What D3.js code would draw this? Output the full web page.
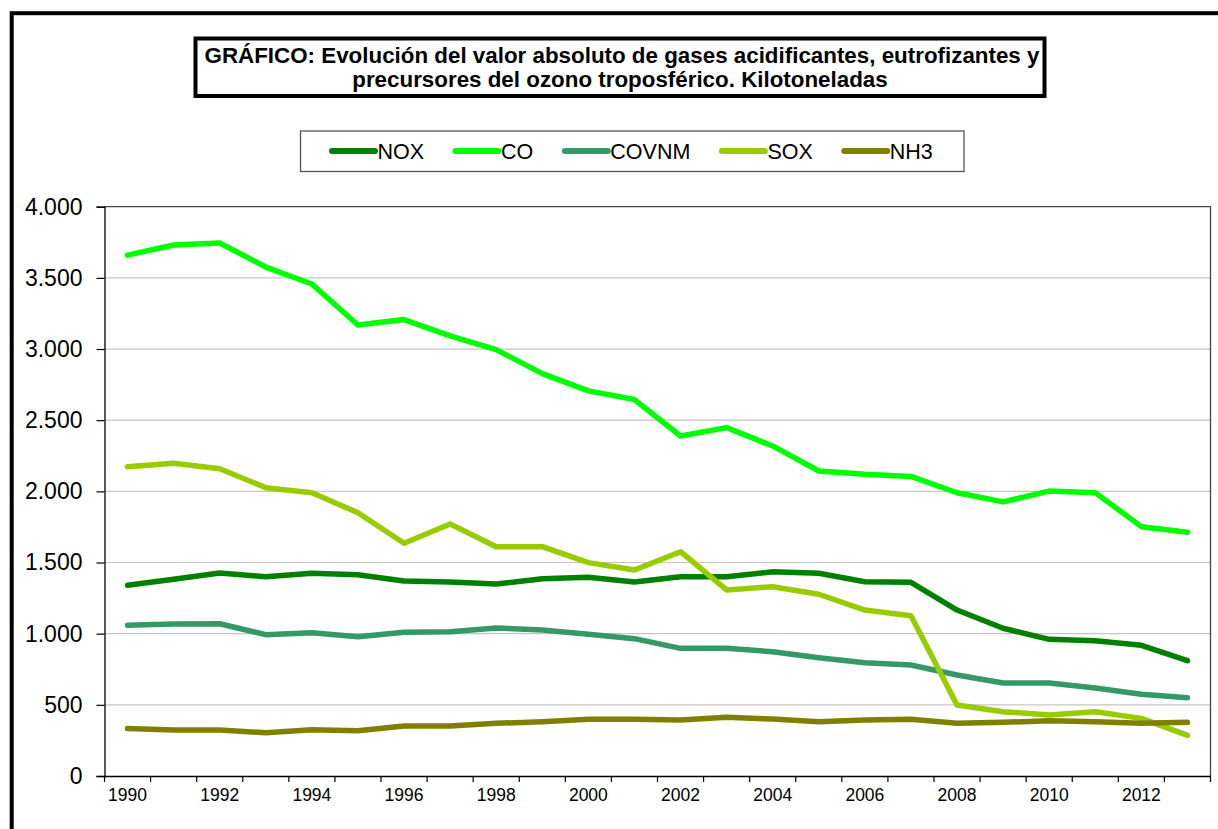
<!DOCTYPE html>
<html>
<head>
<meta charset="utf-8">
<script src="https://cdn.jsdelivr.net/npm/d3@7/dist/d3.min.js"></script>
<style>
  html, body { margin: 0; padding: 0; background: #fff; }
  svg { display: block; font-family: "Liberation Sans", Arial, sans-serif; }
</style>
</head>
<body>
<svg id="chart" width="1218" height="829"></svg>
<script>
const years = d3.range(1990, 2014);
const tickYears = [1990, 1992, 1994, 1996, 1998, 2000, 2002, 2004, 2006, 2008, 2010, 2012];
const yTicks = [0, 500, 1000, 1500, 2000, 2500, 3000, 3500, 4000];
const seriesNames = ["NOX", "CO", "COVNM", "SOX", "NH3"];
const seriesColors = ["#008000", "#00FF00", "#339966", "#99CC00", "#808000"];

const NOX   = [1340, 1382, 1426, 1400, 1424, 1414, 1370, 1363, 1349, 1386, 1396, 1363, 1400, 1400, 1435, 1424, 1365, 1361, 1166, 1038, 960, 951, 918, 810];
const CO    = [3660, 3731, 3745, 3576, 3457, 3169, 3207, 3093, 2996, 2827, 2706, 2645, 2389, 2448, 2319, 2143, 2120, 2105, 1990, 1926, 2002, 1991, 1752, 1712];
const COVNM = [1059, 1068, 1070, 993, 1007, 979, 1010, 1014, 1040, 1026, 996, 965, 897, 897, 873, 831, 796, 780, 710, 653, 653, 618, 574, 550];
const SOX   = [2173, 2197, 2159, 2026, 1990, 1850, 1635, 1771, 1611, 1611, 1499, 1447, 1576, 1307, 1330, 1277, 1166, 1126, 499, 452, 429, 452, 405, 286];
const NH3   = [333, 323, 323, 304, 325, 318, 351, 351, 370, 382, 398, 398, 393, 412, 400, 382, 393, 398, 370, 377, 388, 382, 370, 377];
const seriesValues = [NOX, CO, COVNM, SOX, NH3];

const titleLines = ["GRÁFICO: Evolución del valor absoluto de gases acidificantes, eutrofizantes y",
                    "precursores del ozono troposférico. Kilotoneladas"];

(function () {
const svg = d3.select("#chart");
const loc = d3.formatLocale({decimal: ",", thousands: ".", grouping: [3], currency: ["", ""]});
const fmt = loc.format(",d");

// outer frame
svg.append("rect").attr("x", 11.7).attr("y", 13.2).attr("width", 1300).attr("height", 900)
  .attr("fill", "none").attr("stroke", "#000").attr("stroke-width", 4);

// title box
svg.append("rect").attr("x", 195.5).attr("y", 38.5).attr("width", 849).attr("height", 57.5)
  .attr("fill", "#fff").attr("stroke", "#000").attr("stroke-width", 4);
const t1 = svg.append("text").attr("x", 622).attr("y", 63).attr("text-anchor", "middle")
  .attr("font-weight", "bold").attr("font-size", 18).attr("fill", "#000").text(titleLines[0]);
const w1 = t1.node().getComputedTextLength();
const tfs = 18 * 835 / w1;
t1.attr("font-size", tfs);
svg.append("text").attr("x", 620).attr("y", 86.5).attr("text-anchor", "middle")
  .attr("font-weight", "bold").attr("font-size", tfs).attr("fill", "#000").text(titleLines[1]);

// legend box
svg.append("rect").attr("x", 300.5).attr("y", 131).attr("width", 663.5).attr("height", 40.5)
  .attr("fill", "#fff").attr("stroke", "#555").attr("stroke-width", 1.3);
let lx = 329.5;
seriesNames.forEach((name, i) => {
  svg.append("line").attr("x1", lx + 2.5).attr("x2", lx + 45.5).attr("y1", 151).attr("y2", 151)
    .attr("stroke", seriesColors[i]).attr("stroke-width", 6).attr("stroke-linecap", "round");
  const tx = svg.append("text").attr("x", lx + 48).attr("y", 158.5).attr("font-size", 21.5)
    .attr("fill", "#000").text(name);
  lx = lx + 48 + tx.node().getComputedTextLength() + 29;
});

// plot area
const pLeft = 104.5, pRight = 1210.5, pTop = 206.7, pBottom = 776;
const x = d3.scaleBand().domain(years).range([pLeft, pRight]);
const y = d3.scaleLinear().domain([0, 4000]).range([pBottom, pTop]);

// gridlines
svg.append("g").selectAll("line").data(yTicks.filter(d => d > 0 && d < 4000)).join("line")
  .attr("x1", pLeft).attr("x2", pRight).attr("y1", d => y(d)).attr("y2", d => y(d))
  .attr("stroke", "#c6c6c6").attr("stroke-width", 1.2);

// plot border top/right
svg.append("path").attr("d", `M${pLeft},${pTop}H${pRight}V${pBottom}`)
  .attr("fill", "none").attr("stroke", "#444").attr("stroke-width", 1.3);

// y axis
const yAxis = svg.append("g").attr("transform", `translate(${pLeft},0)`)
  .call(d3.axisLeft(y).tickValues(yTicks).tickFormat(fmt).tickSize(8).tickPadding(14));
yAxis.select(".domain").attr("stroke", "#000").attr("stroke-width", 1.3);
yAxis.selectAll(".tick line").attr("stroke", "#000").attr("stroke-width", 1.2);
yAxis.selectAll(".tick text").attr("font-size", 23).attr("fill", "#000")
  .attr("font-family", "'Liberation Sans', Arial, sans-serif");

// x axis
const xAxis = svg.append("g").attr("transform", `translate(0,${pBottom})`)
  .call(d3.axisBottom(x).tickValues(tickYears).tickSize(0).tickPadding(13));
xAxis.select(".domain").attr("stroke", "#000").attr("stroke-width", 1.3);
xAxis.selectAll(".tick text").attr("font-size", 17.5).attr("fill", "#000")
  .attr("font-family", "'Liberation Sans', Arial, sans-serif");
// category boundary ticks
const bounds = years.map(yr => x(yr)).concat([pRight]);
xAxis.append("g").selectAll("line").data(bounds).join("line")
  .attr("x1", d => d).attr("x2", d => d).attr("y1", 0).attr("y2", 6)
  .attr("stroke", "#000").attr("stroke-width", 1.2);

// lines
const line = d3.line().x((d, i) => x(years[i]) + x.bandwidth() / 2).y(d => y(d));
seriesValues.forEach((vals, i) => {
  svg.append("path").datum(vals).attr("d", line)
    .attr("fill", "none").attr("stroke", seriesColors[i]).attr("stroke-width", 5.5)
    .attr("stroke-linecap", "round").attr("stroke-linejoin", "round");
});
})();
</script>
</body>
</html>
